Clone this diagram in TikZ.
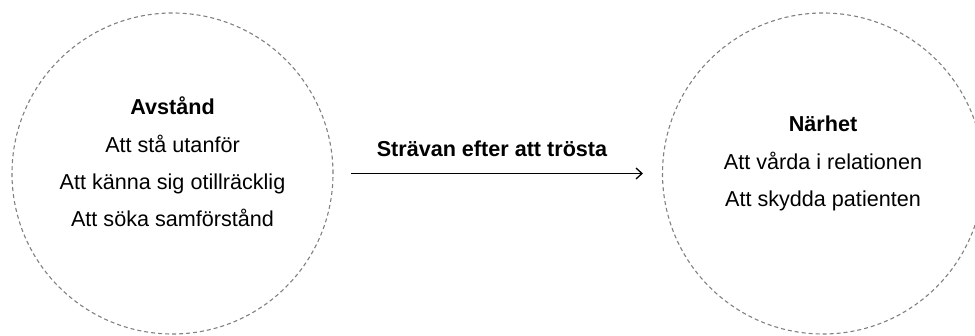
\documentclass[tikz,border=0pt]{standalone}
\usepackage{fontspec}
\setmainfont{Liberation Sans}
\usetikzlibrary{arrows.meta}
\definecolor{ringgray}{RGB}{128,128,128}
\tikzset{
  ring/.style={circle, draw=ringgray, line width=1.1pt, dash pattern=on 4pt off 3pt,
               minimum size=321pt, inner sep=0pt},
  line/.style={anchor=base, inner sep=0pt, font=\fontsize{21.6}{26}\selectfont},
  head/.style={line, font=\fontsize{21.6}{26}\selectfont\bfseries},
  flow/.style={line width=1.3pt, -{Straight Barb[length=6pt,width=11pt,line width=1.3pt]}}
}
\begin{document}
\begin{tikzpicture}[x=1pt, y=-1pt]
  \useasboundingbox (0,0) rectangle (975,336);
  % two dashed rings
  \node[ring] (left)  at (172.5,173.5) {};
  \node[ring] (right) at (823,173.5) {};
  % left ring contents
  \node[head] (avst) at (172.5,115) {Avstånd};
  \node[line] (l1)   at (172.5,152.5) {Att stå utanför};
  \node[line] (l2)   at (172.5,190) {Att känna sig otillräcklig};
  \node[line] (l3)   at (172.5,227) {Att söka samförstånd};
  % right ring contents
  \node[head] (narh) at (823,132) {Närhet};
  \node[line] (r1)   at (823,170) {Att vårda i relationen};
  \node[line] (r2)   at (823,207) {Att skydda patienten};
  % transition between the rings
  \draw[flow, shorten <=17.5pt, shorten >=19pt] (left) -- (right);
  \node[head] (lbl) at (492,157) {Strävan efter att trösta};
\end{tikzpicture}
\end{document}
